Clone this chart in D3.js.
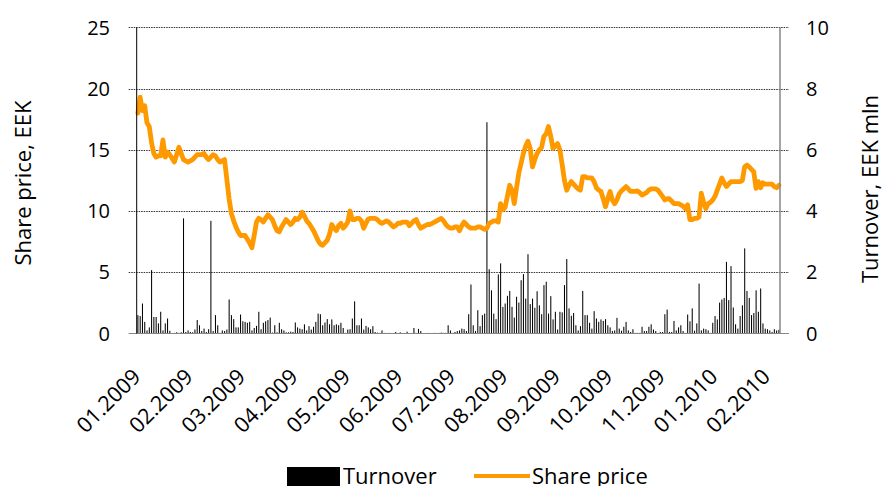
<!DOCTYPE html>
<html>
<head>
<meta charset="utf-8">
<script src="https://cdn.jsdelivr.net/npm/d3@7"></script>
<style>
body { margin: 0; background: #fff; overflow: hidden; }
text { font-family: "Open Sans", Lato, sans-serif; fill: #000; }
</style>
</head>
<body>
<div id="chart"></div>
<script>
// month labels, one every 23 trading days
var monthLabels = ["01.2009", "02.2009", "03.2009", "04.2009", "05.2009", "06.2009", "07.2009",
                   "08.2009", "09.2009", "10.2009", "11.2009", "01.2010", "02.2010"];
var labelStep = 23;

var priceTicks = [0, 5, 10, 15, 20, 25];
var turnoverTicks = [0, 2, 4, 6, 8, 10];

// daily closing price, EEK
var sharePrice = [
  18.0, 19.3, 18.2, 18.6, 17.2, 16.9, 15.6, 14.7, 14.4, 14.5,
  14.5, 15.8, 14.4, 14.8, 14.6, 14.3, 14.0, 14.6, 15.2, 14.7,
  14.2, 14.1, 14.0, 14.1, 14.2, 14.4, 14.6, 14.6, 14.6, 14.7,
  14.4, 14.2, 14.4, 14.6, 14.5, 14.2, 14.0, 14.1, 14.2, 12.6,
  11.0, 9.8, 9.2, 8.7, 8.3, 8.0, 8.0, 8.0, 7.7, 7.4,
  7.0, 8.0, 9.1, 9.4, 9.3, 9.1, 9.4, 9.7, 9.5, 9.3,
  8.8, 8.4, 8.3, 8.7, 9.0, 9.3, 9.1, 8.9, 9.1, 9.4,
  9.3, 9.5, 9.9, 9.6, 9.2, 9.0, 8.7, 8.4, 8.0, 7.6,
  7.3, 7.2, 7.4, 7.6, 8.1, 8.9, 8.6, 8.4, 8.8, 9.0,
  8.6, 8.8, 9.1, 10.0, 9.3, 9.3, 9.4, 9.4, 9.2, 8.6,
  9.0, 9.35, 9.4, 9.4, 9.4, 9.3, 9.1, 9.0, 9.1, 9.2,
  9.1, 8.9, 8.7, 8.8, 9.0, 9.0, 9.1, 9.1, 9.1, 8.8,
  9.0, 9.2, 9.3, 8.9, 8.6, 8.7, 8.8, 8.9, 8.9, 9.0,
  9.1, 9.2, 9.3, 9.4, 9.2, 8.9, 8.7, 8.6, 8.6, 8.7,
  8.7, 8.4, 8.8, 9.1, 8.9, 8.7, 8.6, 8.6, 8.6, 8.7,
  8.7, 8.6, 8.5, 8.6, 9.0, 9.1, 9.2, 9.2, 9.1, 10.6,
  10.1, 10.3, 11.2, 12.1, 11.7, 10.6, 11.9, 13.1, 13.9, 14.7,
  15.3, 15.7, 15.1, 13.6, 14.2, 14.7, 15.0, 15.2, 16.1, 16.3,
  16.9, 16.1, 15.1, 15.3, 15.5, 15.0, 13.8, 12.5, 11.7, 12.1,
  12.4, 12.2, 12.0, 11.8, 11.7, 12.8, 12.8, 12.7, 12.7, 12.7,
  12.4, 11.9, 11.7, 11.6, 11.0, 10.35, 11.0, 11.6, 10.9, 10.6,
  10.9, 11.4, 11.65, 11.8, 12.0, 11.8, 11.6, 11.6, 11.6, 11.65,
  11.5, 11.3, 11.4, 11.5, 11.7, 11.8, 11.8, 11.8, 11.7, 11.45,
  11.2, 10.9, 11.0, 11.0, 10.8, 10.6, 10.6, 10.6, 10.5, 10.4,
  10.2, 10.5, 9.3, 9.3, 9.4, 9.4, 9.5, 11.45, 10.7, 10.2,
  10.6, 10.7, 10.9, 11.2, 11.7, 12.2, 12.7, 12.3, 12.0, 12.2,
  12.4, 12.4, 12.4, 12.4, 12.4, 12.5, 13.6, 13.75, 13.6, 13.4,
  13.2, 11.85, 12.4, 11.9, 12.3, 12.2, 12.2, 12.2, 12.2, 12.0,
  11.9, 12.1
];

// daily turnover, EEK mln
var turnover = [
  0.6, 0.57, 0.98, 0.38, 0.1, 0.2, 2.07, 0.54, 0.54, 0.33,
  0.71, 0.1, 0.33, 0.49, 0.09, 0.0, 0.02, 0.04, 0.02, 0.04,
  3.76, 0.05, 0.1, 0.05, 0.04, 0.13, 0.44, 0.27, 0.08, 0.16,
  0.05, 0.14, 3.68, 0.08, 0.6, 0.27, 0.02, 0.1, 0.08, 0.13,
  1.11, 0.6, 0.47, 0.2, 0.2, 0.62, 0.4, 0.38, 0.35, 0.38,
  0.1, 0.18, 0.25, 0.71, 0.14, 0.35, 0.4, 0.44, 0.52, 0.03,
  0.27, 0.04, 0.35, 0.14, 0.1, 0.04, 0.04, 0.06, 0.05, 0.36,
  0.2, 0.16, 0.14, 0.3, 0.1, 0.24, 0.13, 0.22, 0.38, 0.65,
  0.63, 0.27, 0.36, 0.47, 0.3, 0.46, 0.27, 0.3, 0.27, 0.35,
  0.18, 0.02, 0.13, 0.14, 0.49, 1.05, 0.27, 0.27, 0.49, 0.13,
  0.25, 0.2, 0.14, 0.24, 0.05, 0.03, 0.02, 0.1, 0.02, 0.01,
  0.02, 0.01, 0.0, 0.05, 0.01, 0.04, 0.0, 0.01, 0.06, 0.01,
  0.0, 0.18, 0.02, 0.15, 0.08, 0.01, 0.0, 0.02, 0.0, 0.01,
  0.02, 0.01, 0.02, 0.03, 0.02, 0.02, 0.27, 0.1, 0.02, 0.05,
  0.08, 0.1, 0.16, 0.14, 0.08, 0.63, 1.6, 0.27, 0.08, 0.76,
  0.24, 0.6, 0.65, 6.9, 2.1, 1.41, 0.65, 0.47, 1.93, 2.29,
  0.87, 0.98, 1.23, 1.39, 0.87, 0.52, 1.2, 1.01, 1.74, 1.94,
  1.14, 2.59, 0.96, 1.14, 0.84, 1.38, 0.92, 0.63, 1.58, 1.69,
  0.65, 1.22, 0.46, 0.71, 0.13, 0.71, 0.69, 1.58, 2.43, 0.82,
  0.58, 0.67, 0.27, 0.1, 0.24, 1.39, 0.6, 0.6, 0.35, 0.16,
  0.73, 0.49, 0.38, 0.46, 0.41, 0.47, 0.27, 0.2, 0.08, 0.1,
  0.51, 0.16, 0.09, 0.22, 0.38, 0.1, 0.05, 0.14, 0.02, 0.02,
  0.02, 0.22, 0.08, 0.08, 0.22, 0.3, 0.13, 0.08, 0.02, 0.05,
  0.05, 0.63, 0.78, 0.05, 0.05, 0.41, 0.1, 0.2, 0.27, 0.08,
  0.02, 0.62, 0.4, 0.82, 0.09, 0.33, 1.63, 0.1, 0.16, 0.14,
  0.1, 0.02, 0.35, 0.57, 0.46, 1.01, 1.11, 1.16, 2.34, 1.09,
  2.2, 0.85, 0.3, 0.16, 0.57, 0.92, 2.78, 1.39, 1.16, 0.6,
  0.67, 1.41, 0.71, 1.47, 0.33, 0.16, 0.14, 0.1, 0.05, 0.14,
  0.1, 0.12
];

function drawChart() {
    var w = 885;
    var h = 486;
    var plot = {left: 136.7, right: 780, top: 27.3, bottom: 333.5};

    var svg = d3.select("#chart")
                .append("svg")
                .attr("width", w)
                .attr("height", h);

    var x = d3.scaleBand()
      .domain(d3.range(sharePrice.length))
      .range([plot.left, plot.right])
      .padding(0);
    var bw = x.bandwidth();

    var yPrice = d3.scaleLinear().domain([0, 25]).range([plot.bottom, plot.top]);
    var yTurn = d3.scaleLinear().domain([0, 10]).range([plot.bottom, plot.top]);

    // dotted gridlines
    svg.append("g")
      .selectAll("line")
      .data(priceTicks.filter(function(d) { return d > 0; }))
      .enter()
      .append("line")
      .attr("x1", plot.left - 8)
      .attr("x2", plot.right + 9)
      .attr("y1", function(d) { return Math.round(yPrice(d)) + 0.5; })
      .attr("y2", function(d) { return Math.round(yPrice(d)) + 0.5; })
      .style("stroke", "#333")
      .style("stroke-dasharray", "1.5,1")
      .style("stroke-width", 1);

    // turnover bars
    svg.append("g")
      .selectAll("rect")
      .data(turnover)
      .enter()
      .append("rect")
      .attr("x", function(d, i) { return x(i) + bw * 0.3; })
      .attr("width", bw * 0.45)
      .attr("y", function(d) { return yTurn(d); })
      .attr("height", function(d) { return plot.bottom - yTurn(d); })
      .style("fill", "#000");

    // share price line
    var line = d3.line()
      .x(function(d, i) { return x(i) + bw / 2; })
      .y(function(d) { return yPrice(d); });

    svg.append("path")
      .datum(sharePrice)
      .attr("d", line)
      .style("fill", "none")
      .style("stroke", "#ff9900")
      .style("stroke-width", 4.8)
      .style("stroke-linejoin", "round")
      .style("stroke-linecap", "round");

    // axes lines
    svg.append("line")
      .attr("x1", plot.left - 8).attr("x2", plot.right + 9)
      .attr("y1", plot.bottom).attr("y2", plot.bottom)
      .style("stroke", "#868686").style("stroke-width", 1.2);
    svg.append("line")
      .attr("x1", plot.left).attr("x2", plot.left)
      .attr("y1", plot.top).attr("y2", plot.bottom)
      .style("stroke", "#000").style("stroke-width", 1);
    svg.append("line")
      .attr("x1", plot.right).attr("x2", plot.right)
      .attr("y1", plot.top).attr("y2", plot.bottom)
      .style("stroke", "#868686").style("stroke-width", 1.5);

    // left tick labels
    svg.append("g")
      .selectAll("text")
      .data(priceTicks)
      .enter()
      .append("text")
      .attr("x", 110)
      .attr("y", function(d) { return yPrice(d); })
      .attr("dy", "0.36em")
      .attr("text-anchor", "end")
      .style("font-size", "20px")
      .text(function(d) { return d; });

    // right tick labels
    svg.append("g")
      .selectAll("text")
      .data(turnoverTicks)
      .enter()
      .append("text")
      .attr("x", 806)
      .attr("y", function(d) { return yTurn(d); })
      .attr("dy", "0.36em")
      .attr("text-anchor", "start")
      .style("font-size", "20px")
      .text(function(d) { return d; });

    // axis titles
    svg.append("text")
      .attr("transform", "translate(31,183) rotate(-90)")
      .attr("text-anchor", "middle")
      .style("font-size", "22px")
      .text("Share price, EEK");
    svg.append("text")
      .attr("transform", "translate(878,189) rotate(-90)")
      .attr("text-anchor", "middle")
      .style("font-size", "22px")
      .text("Turnover, EEK mln");

    // x labels
    svg.append("g")
      .selectAll("text")
      .data(monthLabels)
      .enter()
      .append("text")
      .attr("text-anchor", "end")
      .attr("transform", function(d, i) {
        var cx = x(i * labelStep) + bw / 2;
        return "translate(" + (cx + 4) + ",378) rotate(-45)";
      })
      .style("font-size", "21.5px")
      .text(function(d) { return d; });

    // legend
    var legend = svg.append("g");
    legend.append("rect")
      .attr("x", 287).attr("y", 467)
      .attr("width", 53).attr("height", 19)
      .style("fill", "#000");
    legend.append("text")
      .attr("x", 343).attr("y", 484)
      .style("font-size", "22px")
      .text("Turnover");
    legend.append("line")
      .attr("x1", 474).attr("x2", 530)
      .attr("y1", 476).attr("y2", 476)
      .style("stroke", "#ff9900").style("stroke-width", 4);
    legend.append("text")
      .attr("x", 532).attr("y", 484)
      .style("font-size", "22px")
      .text("Share price");
}

drawChart();
</script>
</body>
</html>
